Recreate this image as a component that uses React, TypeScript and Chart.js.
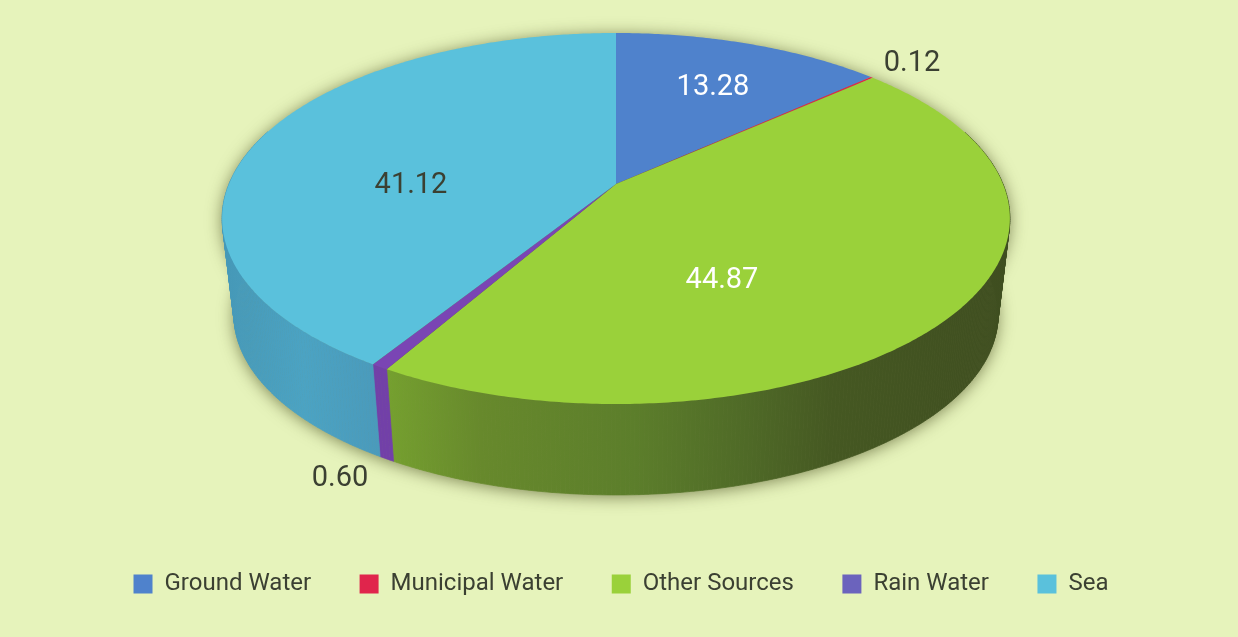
import React, { useEffect, useRef } from "react";
import { Chart, registerables } from "chart.js";

Chart.register(...registerables);

const categories = ["Ground Water", "Municipal Water", "Other Sources", "Rain Water", "Sea"];
const shares = [13.28, 0.12, 44.87, 0.6, 41.12];
const topColors = ["#4f82cc", "#e0254c", "#9ad13a", "#7a45b4", "#5ac1dc"];
const legendColors = ["#4f82cc", "#e0254c", "#9ad13a", "#6b63bd", "#5ac1dc"];

const W = 1238;
const H = 637;

// Perspective projection of the unit disc onto the tilted top face.
const cx = 616, apexY = 184, a = -0.186, kx = 387, ky = 179.1;
const ellipseCy = 218.5, depthScale = 0.97, bottomCy = 315;

const top = (t: number) => {
  const x = Math.cos(t), y = Math.sin(t), d = 1 + a * y;
  return { x: cx + (kx * x) / d, y: apexY + (ky * y) / d };
};
const bottom = (t: number) => {
  const p = top(t);
  return { x: cx + depthScale * (p.x - cx), y: bottomCy + depthScale * (p.y - ellipseCy) };
};

const wallGradient = (ctx: CanvasRenderingContext2D, i: number) => {
  const stops: Record<number, [number, string][]> = {
    0: [[0, "#3f669f"], [1, "#3f669f"]],
    1: [[0, "#8a1f38"], [1, "#8a1f38"]],
    2: [[0, "#75a02f"], [0.15, "#67892c"], [0.4, "#5c7e2b"], [0.58, "#4f6a27"], [0.72, "#455822"], [1, "#3f4e20"]],
    3: [[0, "#7240a8"], [1, "#7240a8"]],
    4: [[0, "#4699b8"], [0.5, "#4ba3c3"], [1, "#4a9abb"]],
  };
  const g = ctx.createLinearGradient(i === 4 ? 228 : 388, 0, i === 4 ? 380 : 1005, 0);
  stops[i].forEach(([o, c]) => g.addColorStop(o, c));
  return g;
};

// Label anchors on the picture, in dataset order.
const labelAnchors = [
  { x: 713, y: 88, color: "#ffffff" },
  { x: 912, y: 64, color: "#3b4032" },
  { x: 722, y: 281, color: "#ffffff" },
  { x: 340, y: 479, color: "#3b4032" },
  { x: 411, y: 186, color: "#3b4032" },
];

const pie3d = {
  id: "pie3d",
  beforeDatasetDraw(chart: any) {
    const ctx: CanvasRenderingContext2D = chart.ctx;
    const arcs = chart.getDatasetMeta(0).data;
    ctx.save();

    // Soft shadow under the whole solid: the shape itself is drawn off-canvas
    const away = 3000;
    ctx.shadowColor = "rgba(70,75,30,0.65)";
    ctx.shadowBlur = 16;
    ctx.shadowOffsetX = away;
    ctx.shadowOffsetY = 2;
    ctx.fillStyle = "#000";
    for (const f of [top, bottom]) {
      ctx.beginPath();
      for (let d = 0; d < 360; d += 2) {
        const p = f((d * Math.PI) / 180);
        d === 0 ? ctx.moveTo(p.x - away, p.y) : ctx.lineTo(p.x - away, p.y);
      }
      ctx.closePath();
      ctx.fill();
    }
    ctx.shadowColor = "transparent";
    ctx.shadowBlur = 0;
    ctx.shadowOffsetX = 0;
    ctx.shadowOffsetY = 0;

    // Side walls, as thin strips of each slice
    arcs.forEach((arc: any, i: number) => {
      const { startAngle: s, endAngle: e } = arc.getProps(["startAngle", "endAngle"], true);
      const n = Math.max(2, Math.ceil((e - s) / 0.01));
      const g = wallGradient(ctx, i);
      ctx.fillStyle = g;
      ctx.strokeStyle = g;
      ctx.lineWidth = 0.7;
      for (let k = 0; k < n; k++) {
        const t0 = s + ((e - s) * k) / n, t1 = s + ((e - s) * (k + 1)) / n;
        const p0 = top(t0), p1 = top(t1), q1 = bottom(t1), q0 = bottom(t0);
        if (Math.sin(t0) < -0.3 && Math.sin(t1) < -0.3) continue;
        ctx.beginPath();
        ctx.moveTo(p0.x, p0.y);
        ctx.lineTo(p1.x, p1.y);
        ctx.lineTo(q1.x, q1.y);
        ctx.lineTo(q0.x, q0.y);
        ctx.closePath();
        ctx.fill();
        ctx.stroke();
      }
    });

    // Top face
    arcs.forEach((arc: any, i: number) => {
      const { startAngle: s, endAngle: e } = arc.getProps(["startAngle", "endAngle"], true);
      const n = Math.max(2, Math.ceil((e - s) / 0.01));
      ctx.fillStyle = topColors[i];
      ctx.beginPath();
      ctx.moveTo(cx, apexY);
      for (let k = 0; k <= n; k++) {
        const p = top(s + ((e - s) * k) / n);
        ctx.lineTo(p.x, p.y);
      }
      ctx.closePath();
      ctx.fill();
    });

    // Value labels
    ctx.font = '400 29px Roboto, sans-serif';
    ctx.textAlign = "center";
    ctx.textBaseline = "middle";
    shares.forEach((v, i) => {
      ctx.fillStyle = labelAnchors[i].color;
      ctx.fillText(v.toFixed(2), labelAnchors[i].x, labelAnchors[i].y);
    });

    ctx.restore();
    return false;
  },
};

export default function App() {
  const ref = useRef<HTMLCanvasElement>(null);
  useEffect(() => {
    const chart = new Chart(ref.current!, {
      type: "pie",
      data: {
        labels: categories,
        datasets: [{ data: shares, backgroundColor: legendColors, borderWidth: 0 }],
      },
      options: {
        responsive: false,
        animation: false,
        layout: { padding: { bottom: 31, left: 4 } },
        plugins: {
          tooltip: { enabled: false },
          legend: {
            position: "bottom",
            labels: {
              boxWidth: 19,
              boxHeight: 19,
              padding: 48.5,
              color: "#3b4032",
              font: { family: "Roboto, sans-serif", size: 24 },
            },
          },
        },
      },
      plugins: [pie3d],
    } as any);
    return () => chart.destroy();
  }, []);
  return (
    <div style={{ position: "fixed", left: 0, top: 0, width: W, height: H, background: "#e6f3bb" }}>
      <canvas ref={ref} width={W} height={H} style={{ display: "block" }} />
    </div>
  );
}
